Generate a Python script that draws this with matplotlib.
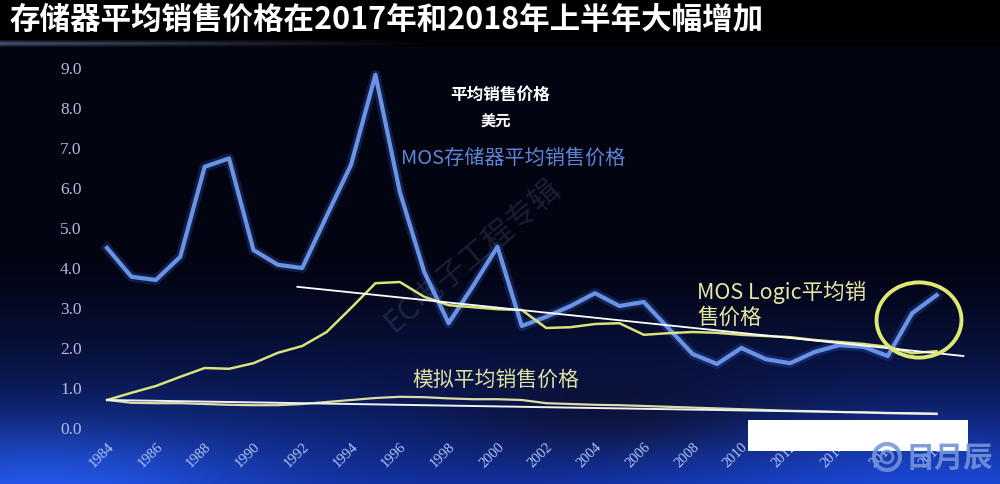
import numpy as np
import matplotlib
matplotlib.use("Agg")
import matplotlib.pyplot as plt
from matplotlib.patches import Ellipse, Rectangle

plt.rcParams['font.family'] = ['Noto Sans CJK SC', 'DejaVu Sans']

# ---------------- data ----------------
years = list(range(1984, 2019))
memory_asp = [4.50, 3.78, 3.70, 4.28, 6.53, 6.74, 4.45, 4.08, 4.00, 5.30,
              6.58, 8.83, 5.90, 3.90, 2.62, 3.55, 4.53, 2.55, 2.78, 3.05,
              3.37, 3.05, 3.15, 2.50, 1.85, 1.60, 2.00, 1.72, 1.62, 1.90,
              2.07, 2.03, 1.80, 2.87, 3.32]
logic_asp = [0.70, 0.88, 1.05, 1.28, 1.50, 1.48, 1.62, 1.88, 2.05, 2.40,
             3.00, 3.62, 3.65, 3.28, 3.07, 3.02, 2.97, 2.95, 2.50, 2.52,
             2.60, 2.62, 2.33, 2.37, 2.40, 2.38, 2.33, 2.30, 2.27, 2.20,
             2.15, 2.10, 2.03, 1.87, 1.92]
analog_asp = [0.70, 0.63, 0.62, 0.62, 0.60, 0.58, 0.57, 0.57, 0.60, 0.65,
              0.70, 0.75, 0.78, 0.77, 0.74, 0.72, 0.72, 0.70, 0.62, 0.60,
              0.58, 0.57, 0.55, 0.53, 0.51, 0.49, 0.47, 0.45, 0.43, 0.42,
              0.40, 0.39, 0.37, 0.36, 0.35]
logic_trend_x = [1991.8, 2019.1]
logic_trend_y = [3.53, 1.80]
analog_trend_x = [1984, 2018]
analog_trend_y = [0.70, 0.36]
highlight_center = (2017.28, 2.70)
highlight_size = (3.48, 1.88)
y_ticks = [0, 1, 2, 3, 4, 5, 6, 7, 8, 9]
y_tick_labels = ["0.0", "1.0", "2.0", "3.0", "4.0", "5.0", "6.0", "7.0", "8.0", "9.0"]
x_ticks = list(range(1984, 2019, 2))
x_tick_labels = [str(y) for y in x_ticks]

title = "存储器平均销售价格在2017年和2018年上半年大幅增加"

# ---------------- figure ----------------
W, H = 1000, 484
fig = plt.figure(figsize=(W / 100, H / 100), dpi=100)

# background gradient
bg = fig.add_axes([0, 0, 1, 1], zorder=-10)
ys = np.arange(H)[:, None].astype(float)
xs = np.arange(W)[None, :].astype(float)
t = np.clip((ys - 250) / (H - 250), 0, 1) ** 1.4
r = 3 + 14 * t + 0 * xs
g = 4 + 42 * t + 0 * xs
b = 18 + 135 * t + 0 * xs
glow_l = np.exp(-((xs - 40) ** 2) / (2 * 160 ** 2) - ((ys - 484) ** 2) / (2 * 45 ** 2))
glow_r = np.exp(-((xs - 930) ** 2) / (2 * 200 ** 2) - ((ys - 484) ** 2) / (2 * 50 ** 2))
dark_m = np.exp(-((xs - 620) ** 2) / (2 * 120 ** 2) - ((ys - 420) ** 2) / (2 * 30 ** 2))
r += 18 * glow_l + 10 * glow_r
g += 40 * glow_l + 25 * glow_r - 12 * dark_m
b += 80 * glow_l + 60 * glow_r - 45 * dark_m
img = np.stack([r, g, b], axis=-1)
img[:44] = [1, 1, 3]
fade = np.clip(1 - xs[0] / 430, 0, 1)
for row in range(40, 47):
    k = 1 - abs(row - 43) / 4
    img[row, :, 0] = 1 + 70 * fade * k
    img[row, :, 1] = 1 + 85 * fade * k
    img[row, :, 2] = 3 + 115 * fade * k
img = np.clip(img, 0, 255) / 255.0
bg.imshow(img, aspect='auto', interpolation='bilinear')
bg.axis('off')

# title
fig.text(0.010, 1 - 20 / H, title, color='white', fontsize=22, fontweight='bold',
         ha='left', va='center')

# main axes
ax = fig.add_axes([0.09, 1 - 432 / H, 0.90, 377 / H])
ax.set_facecolor('none')
ax.set_xlim(1983.30, 2020.19)
ax.set_ylim(-0.10, 9.325)
for s in ax.spines.values():
    s.set_visible(False)

# watermark
ax.text(1999.0, 4.3, "EC电子工程专辑", rotation=40, fontsize=22, color=(0.55, 0.6, 0.75),
        alpha=0.18, ha='center', va='center', zorder=1)

# lines
ax.plot(years, memory_asp, color='#3a64d8', lw=7, alpha=0.25, solid_joinstyle='round', zorder=3)
ax.plot(years, memory_asp, color='#6a93e4', lw=3.0, solid_joinstyle='round', zorder=4)
ax.plot(years, logic_asp, color='#d9e27a', lw=1.8, zorder=5)
ax.plot(years, analog_asp, color='#dcdca8', lw=1.6, zorder=5)
ax.plot(logic_trend_x, logic_trend_y, color='white', lw=1.3, zorder=6)
ax.plot(analog_trend_x, analog_trend_y, color='#f0f0f0', lw=1.4, zorder=6)

ax.add_patch(Ellipse(highlight_center, highlight_size[0], highlight_size[1], fill=False,
                     edgecolor='#dfe870', lw=2.8, zorder=7))

# annotations
ax.text(2000.1, 8.33, "平均销售价格", color='white', fontsize=12, fontweight='bold',
        ha='center', va='center', zorder=8)
ax.text(1999.95, 7.65, "美元", color='white', fontsize=11, fontweight='bold',
        ha='center', va='center', zorder=8)
ax.text(1996.05, 6.75, "MOS存储器平均销售价格", color='#5f84d6', fontsize=14.5,
        ha='left', va='center', zorder=8)
ax.text(2008.2, 3.40, "MOS Logic平均销", color='#e6e8a2', fontsize=15.5,
        ha='left', va='center', zorder=8)
ax.text(2008.2, 2.75, "售价格", color='#e6e8a2', fontsize=15.5,
        ha='left', va='center', zorder=8)
ax.text(1996.5, 1.20, "模拟平均销售价格", color='#e0e2a0', fontsize=15,
        ha='left', va='center', zorder=8)

# ticks
tick_color = (0.72, 0.72, 0.88)
ax.set_yticks(y_ticks)
ax.set_yticklabels(y_tick_labels, fontsize=12.5, color=tick_color, family=['Liberation Serif'])
ax.set_xticks(x_ticks)
ax.set_xticklabels(x_tick_labels, fontsize=10.5, color=(0.70, 0.78, 0.97),
                   family=['Liberation Serif'], rotation=45, ha='right', va='top',
                   rotation_mode='anchor')
ax.tick_params(axis='both', length=0)
ax.tick_params(axis='y', pad=6)
ax.tick_params(axis='x', pad=6)

# white cover box and logo
fig.patches.append(Rectangle((748 / W, 1 - 451 / H), 220 / W, 31 / H, transform=fig.transFigure,
                             facecolor='white', edgecolor='none', zorder=20))
fig.patches.append(Ellipse((887 / W, 1 - 457 / H), 26 / W, 26 / H, transform=fig.transFigure,
                           facecolor='none', edgecolor=(0.45, 0.58, 0.85), lw=3, alpha=0.85,
                           zorder=21))
fig.patches.append(Ellipse((887 / W, 1 - 457 / H), 12 / W, 12 / H, transform=fig.transFigure,
                           facecolor='none', edgecolor=(0.45, 0.58, 0.85), lw=2, alpha=0.85,
                           zorder=21))
fig.text(0.905, 1 - 458 / H, "日月辰", color=(0.45, 0.58, 0.85), alpha=0.9, fontsize=21,
         fontweight='bold', ha='left', va='center', zorder=21)

fig.savefig("out.png", dpi=100)
